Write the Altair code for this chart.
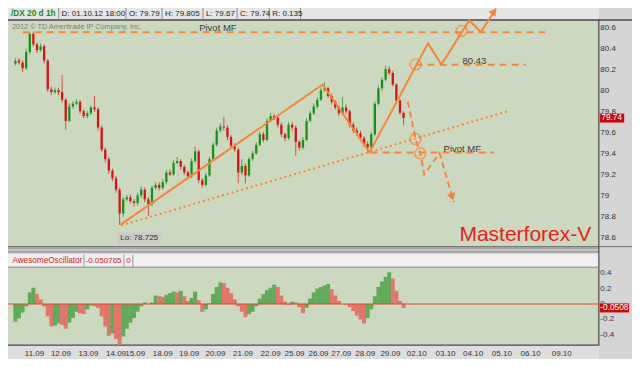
import altair as alt
import numpy as np
import pandas as pd

# ------------------------------------------------------------------ data
# 3-hour candles (time index in hours from the chart's left edge)
candle_hours = list(range(2, 2 + 3 * 109, 3))

closes = [80.286, 80.268, 80.214, 80.368, 80.541, 80.441, 80.386, 80.423, 80.286, 80.014,
          79.986, 80.005, 79.986, 79.914, 79.714, 79.850, 79.877, 79.895, 79.805, 79.759,
          79.786, 79.841, 79.823, 79.650, 79.441, 79.350, 79.241, 79.168, 79.059, 78.832,
          78.968, 78.986, 78.950, 78.932, 79.005, 79.059, 78.968, 78.923, 79.077, 79.105,
          79.077, 79.132, 79.223, 79.205, 79.314, 79.332, 79.277, 79.223, 79.186, 79.332,
          79.423, 79.150, 79.105, 79.195, 79.350, 79.486, 79.623, 79.659, 79.650, 79.559,
          79.477, 79.441, 79.223, 79.286, 79.195, 79.350, 79.405, 79.486, 79.586, 79.532,
          79.714, 79.759, 79.741, 79.677, 79.586, 79.550, 79.677, 79.650, 79.514, 79.459,
          79.532, 79.714, 79.786, 79.850, 79.914, 80.005, 80.023, 79.950, 79.895, 79.841,
          79.786, 79.841, 79.805, 79.677, 79.623, 79.595, 79.550, 79.495, 79.459, 79.586,
          79.877, 80.023, 80.105, 80.205, 80.168, 80.059, 79.905, 79.790, 79.740]
first_open = 80.26

highs = [80.31, 80.31, 80.29, 80.40, 80.555, 80.56, 80.46, 80.45, 80.44, 80.30,
         80.04, 80.03, 80.03, 80.15, 79.93, 79.88, 79.90, 79.92, 79.91, 79.82,
         79.81, 79.86, 79.95, 79.84, 79.67, 79.46, 79.37, 79.26, 79.19, 79.08,
         78.99, 79.01, 79.01, 78.97, 79.03, 79.09, 79.08, 78.99, 79.10, 79.13,
         79.13, 79.16, 79.25, 79.25, 79.34, 79.37, 79.35, 79.29, 79.24, 79.36,
         79.47, 79.44, 79.17, 79.22, 79.37, 79.51, 79.65, 79.69, 79.75, 79.67,
         79.58, 79.50, 79.46, 79.35, 79.31, 79.37, 79.43, 79.51, 79.61, 79.61,
         79.74, 79.79, 79.78, 79.76, 79.70, 79.60, 79.70, 79.70, 79.67, 79.53,
         79.56, 79.74, 79.81, 79.88, 79.94, 80.03, 80.08, 80.04, 79.97, 79.91,
         79.86, 79.94, 79.87, 79.82, 79.70, 79.65, 79.62, 79.57, 79.52, 79.61,
         79.90, 80.05, 80.13, 80.24, 80.23, 80.19, 80.07, 79.92, 79.805]

lows = [80.24, 80.25, 80.18, 80.20, 80.35, 80.42, 80.36, 80.37, 80.26, 79.99,
        79.96, 79.97, 79.96, 79.89, 79.63, 79.70, 79.83, 79.86, 79.78, 79.74,
        79.74, 79.77, 79.80, 79.62, 79.42, 79.32, 79.21, 79.14, 79.03, 78.725,
        78.80, 78.95, 78.93, 78.90, 78.91, 78.98, 78.94, 78.81, 78.90, 79.06,
        79.05, 79.06, 79.11, 79.19, 79.19, 79.30, 79.25, 79.20, 79.16, 79.17,
        79.31, 79.12, 79.08, 79.09, 79.18, 79.33, 79.47, 79.60, 79.62, 79.53,
        79.45, 79.42, 79.12, 79.20, 79.12, 79.18, 79.33, 79.39, 79.47, 79.51,
        79.52, 79.70, 79.72, 79.65, 79.56, 79.52, 79.53, 79.62, 79.38, 79.43,
        79.44, 79.52, 79.70, 79.77, 79.83, 79.90, 79.99, 79.93, 79.87, 79.82,
        79.76, 79.77, 79.78, 79.65, 79.60, 79.57, 79.52, 79.47, 79.41, 79.44,
        79.57, 79.86, 80.00, 80.09, 80.15, 80.04, 79.88, 79.77, 79.67]

# Awesome Oscillator values at the same time steps
ao_values = [-0.23, -0.185, -0.11, -0.03, 0.15, 0.21, 0.13, 0.06, -0.03, -0.16,
             -0.29, -0.28, -0.25, -0.27, -0.32, -0.24, -0.18, -0.10, -0.12, -0.13,
             -0.07, -0.02, -0.03, -0.05, -0.16, -0.29, -0.41, -0.38, -0.45, -0.52,
             -0.42, -0.32, -0.24, -0.18, -0.10, -0.03, 0.02, 0.00, 0.02, 0.11,
             0.10, 0.09, 0.12, 0.14, 0.16, 0.15, 0.17, 0.10, 0.04, 0.08,
             0.16, 0.05, -0.10, -0.07, 0.01, 0.13, 0.22, 0.28, 0.27, 0.21,
             0.14, 0.06, -0.03, -0.10, -0.17, -0.13, -0.10, -0.03, 0.07, 0.13,
             0.18, 0.21, 0.25, 0.22, 0.11, 0.03, -0.01, 0.03, 0.02, -0.04,
             -0.12, -0.05, 0.07, 0.15, 0.20, 0.22, 0.24, 0.26, 0.19, 0.11,
             0.04, 0.00, -0.01, -0.04, -0.09, -0.15, -0.20, -0.25, -0.18, -0.07,
             0.10, 0.22, 0.29, 0.35, 0.41, 0.33, 0.17, 0.04, -0.05]

# date labels (hour index of each label)
date_hours = [18, 40, 63, 86, 102, 125, 147, 169, 192, 215, 235, 255, 274, 294, 315,
              337, 361, 384, 408, 432, 458]
date_labels = ["11.09", "12.09", "13.09", "14.09", "15.09", "18.09", "19.09", "20.09",
               "21.09", "22.09", "25.09", "26.09", "27.09", "28.09", "29.09", "02.10",
               "03.10", "04.10", "05.10", "06.10", "09.10"]

price_ticks = [80.6, 80.4, 80.2, 80.0, 79.8, 79.6, 79.4, 79.2, 79.0, 78.8, 78.6]
price_tick_labels = ["80.6", "80.4", "80.2", "80", "79.8", "79.6", "79.4", "79.2", "79", "78.8", "78.6"]
ao_ticks = [0.4, 0.2, 0.0, -0.2, -0.4]
ao_tick_labels = ["0.4", "0.2", "0", "-0.2", "-0.4"]

# analyst drawings (hour index, price)
wave_hours = [89.6, 258.4, 297.6, 346.4, 357.6, 380.8, 390.4, 403.2]
wave_prices = [78.725, 80.059, 79.414, 80.45, 80.25, 80.668, 80.559, 80.777]
trend_hours = [90.4, 412.8]
trend_prices = [78.72, 79.805]
alt_hours = [329.6, 336, 340, 343.2, 356, 368]
alt_prices = [79.895, 79.541, 79.405, 79.205, 79.405, 78.941]
level_start = [8, 336, 298.4]
level_end = [444, 428, 401.6]
level_price = [80.555, 80.247, 79.414]
level_text = ["Pivot MF", "80.43", "Pivot MF"]
level_text_hour = [171, 385, 375]
level_text_price = [80.60, 80.285, 79.45]
circle_hours = [336, 374.4, 336, 340]
circle_prices = [80.25, 80.568, 79.541, 79.405]
arrow_hours = [401.5, 366.5]
arrow_prices = [80.755, 78.99]
arrow_angles = [34, 164]

last_price = 79.74
last_ao = -0.0508

# ------------------------------------------------------------------ layout helpers
SX = 624 / 640
SY = 351 / 367


def X(v):
    return round(v * SX, 2)


def Y(v):
    return round(v * SY, 2)


PLOT_BG = "#ccd9c0"
SIDE_BG = "#d5d5d5"
HEAD_BG = "#e6e6e6"
ORANGE = "#f5843a"
UP = "#1b8f1b"
DOWN = "#d11414"
FONT = "Liberation Sans"

one = pd.DataFrame({"d": [0]})


def box(x0, y0, x1, y1, fill, stroke=None, sw=1, r=0):
    kw = {"fill": fill}
    if stroke:
        kw.update(stroke=stroke, strokeWidth=sw)
    else:
        kw.update(strokeWidth=0)
    if r:
        kw["cornerRadius"] = r
    return alt.Chart(one).mark_rect(**kw).encode(
        x=alt.value(X(x0)), x2=alt.value(X(x1)), y=alt.value(Y(y0)), y2=alt.value(Y(y1)))


def line(x0, y0, x1, y1, color, sw=1):
    return alt.Chart(one).mark_rule(color=color, strokeWidth=sw).encode(
        x=alt.value(X(x0)), x2=alt.value(X(x1)), y=alt.value(Y(y0)), y2=alt.value(Y(y1)))


def txt(s, x, y, size, color, align="left", weight="normal", baseline="middle"):
    return alt.Chart(one).mark_text(
        text=s, fontSize=size, color=color, align=align, baseline=baseline,
        fontWeight=weight, font=FONT).encode(x=alt.value(X(x)), y=alt.value(Y(y)))


# scales (pixel ranges of the two panes)
xs = alt.Scale(domain=[0, 606 / 1.25], range=[0, X(606)], nice=False, zero=False)
ys_main = alt.Scale(domain=[78.6, 80.6], range=[Y(240.5), Y(20.5)], nice=False, zero=False)
ys_osc = alt.Scale(domain=[-0.4, 0.4], range=[Y(309.5 + 0.4 * 81), Y(309.5 - 0.4 * 81)],
                   nice=False, zero=False)

XH = alt.X("h:Q", scale=xs, axis=None)

# ------------------------------------------------------------------ frames
layers = []
layers.append(box(0, 0, 640, 367, SIDE_BG))
layers.append(box(0, 0, 606, 12, HEAD_BG))
layers.append(box(0, 13, 606, 250, PLOT_BG))
layers.append(box(0, 250, 606, 257, "#c6c6c6"))
layers.append(line(0, 251, 606, 251, "#8c8c8c"))
layers.append(line(0, 255, 606, 255, "#8c8c8c"))
layers.append(box(0, 257, 606, 271, "#f0f0f0"))
layers.append(box(0, 271, 606, 352, PLOT_BG))
layers.append(box(0, 353, 606, 367, "#dedede"))
layers.append(line(0, 12.5, 640, 12.5, "#4a4a4a", 1.5))
layers.append(line(606, 13, 606, 353, "#4a4a4a", 1.2))
layers.append(line(0, 271, 606, 271, "#8a8a8a"))
layers.append(line(0, 352.5, 606, 352.5, "#4a4a4a", 1.2))
layers.append(line(0, 249.5, 640, 249.5, "#6a6a6a"))

# header boxes
for xa in [52, 121, 158, 200, 235, 268, 300]:
    layers.append(line(xa, 0, xa, 12, "#8a8a8a"))
layers.append(txt("/DX 20 d 1h", 3, 6.5, 8.3, "#1f8a1f", weight="bold"))
for s, xa in [("D: 01.10.12 18:00", 55), ("O: 79.79", 124), ("H: 79.805", 161),
              ("L: 79.67", 203), ("C: 79.74", 238), ("R: 0.135", 271)]:
    layers.append(txt(s, xa, 6.5, 8, "#222222"))

# oscillator header boxes
for xa in [78, 119, 128]:
    layers.append(line(xa, 258, xa, 271, "#9a9a9a"))
layers.append(txt("AwesomeOscillator", 4.5, 264.5, 8.2, "#d42020"))
layers.append(txt("-0.050765", 79.5, 264.5, 8, "#d42020"))
layers.append(txt("0", 121.3, 264.5, 8, "#d42020"))

layers.append(txt("2012 \u00a9 TD Ameritrade IP Company, Inc.", 4, 19.5, 7.3, "#7c7c7c"))

# ------------------------------------------------------------------ candles
opens = [first_open] + closes[:-1]
cdf = pd.DataFrame({"h": candle_hours, "open": opens, "close": closes,
                    "high": highs, "low": lows})
cdf["dir"] = np.where(cdf["close"] >= cdf["open"], "up", "down")
ccol = alt.Color("dir:N", scale=alt.Scale(domain=["up", "down"], range=[UP, DOWN]), legend=None)

layers.append(alt.Chart(cdf).mark_rule(strokeWidth=1, opacity=0.7).encode(
    x=XH, y=alt.Y("low:Q", scale=ys_main, axis=None), y2="high:Q", color=ccol))
layers.append(alt.Chart(cdf).mark_bar(size=2.3).encode(
    x=XH, y=alt.Y("open:Q", scale=ys_main, axis=None), y2="close:Q", color=ccol))

# ------------------------------------------------------------------ drawings
lvl = pd.DataFrame({"h0": level_start, "h1": level_end, "p": level_price})
layers.append(alt.Chart(lvl).mark_rule(color=ORANGE, strokeWidth=2, strokeDash=[7, 5]).encode(
    x=alt.X("h0:Q", scale=xs, axis=None), x2="h1:Q", y=alt.Y("p:Q", scale=ys_main, axis=None)))

lvl_t = pd.DataFrame({"h": level_text_hour, "p": level_text_price, "t": level_text})
layers.append(alt.Chart(lvl_t).mark_text(fontSize=9.5, color="#3a3a3a", align="center",
                                          baseline="middle", font=FONT).encode(
    x=XH, y=alt.Y("p:Q", scale=ys_main, axis=None), text="t:N"))

wave = pd.DataFrame({"h": wave_hours, "p": wave_prices, "i": range(len(wave_hours))})
layers.append(alt.Chart(wave).mark_line(color=ORANGE, strokeWidth=2).encode(
    x=XH, y=alt.Y("p:Q", scale=ys_main, axis=None), order="i:Q"))

trend = pd.DataFrame({"h": trend_hours, "p": trend_prices, "i": range(len(trend_hours))})
layers.append(alt.Chart(trend).mark_line(color=ORANGE, strokeWidth=2, strokeDash=[2, 3]).encode(
    x=XH, y=alt.Y("p:Q", scale=ys_main, axis=None), order="i:Q"))

altp = pd.DataFrame({"h": alt_hours, "p": alt_prices, "i": range(len(alt_hours))})
layers.append(alt.Chart(altp).mark_line(color=ORANGE, strokeWidth=2, strokeDash=[6, 4]).encode(
    x=XH, y=alt.Y("p:Q", scale=ys_main, axis=None), order="i:Q"))

circ = pd.DataFrame({"h": circle_hours, "p": circle_prices})
layers.append(alt.Chart(circ).mark_point(shape="circle", size=120, filled=False,
                                         strokeWidth=1.6, color=ORANGE).encode(
    x=XH, y=alt.Y("p:Q", scale=ys_main, axis=None)))

arr = pd.DataFrame({"h": arrow_hours, "p": arrow_prices, "a": arrow_angles})
layers.append(alt.Chart(arr).mark_point(shape="triangle-up", size=75, filled=True,
                                        color=ORANGE, opacity=1).encode(
    x=XH, y=alt.Y("p:Q", scale=ys_main, axis=None), angle=alt.Angle("a:Q", scale=None)))

# Lo label
layers.append(box(112, 234.5, 157, 246.5, "#c9cbc5", r=2))
layers.append(txt("Lo: 78.725", 134.5, 240.5, 8, "#333333", align="center"))

layers.append(txt("Masterforex-V", 463, 237.5, 21, "#e3241b"))

# ------------------------------------------------------------------ oscillator
adf = pd.DataFrame({"h": candle_hours, "ao": ao_values})
adf["dir"] = np.where(adf["ao"].diff().fillna(1) >= 0, "up", "down")
acol = alt.Color("dir:N", scale=alt.Scale(domain=["up", "down"], range=["#62a95a", "#df786a"]),
                 legend=None)
layers.append(alt.Chart(adf).mark_bar(size=4.0).encode(
    x=XH, y=alt.Y("ao:Q", scale=ys_osc, axis=None), y2=alt.datum(0), color=acol))

zero = pd.DataFrame({"z": [0.0]})
layers.append(alt.Chart(zero).mark_rule(color="#d8452e", strokeWidth=1.2).encode(
    x=alt.value(0), x2=alt.value(X(606)), y=alt.Y("z:Q", scale=ys_osc, axis=None)))

# ------------------------------------------------------------------ axes
pt = pd.DataFrame({"p": price_ticks, "t": price_tick_labels})
layers.append(alt.Chart(pt).mark_text(fontSize=8, color="#333333", align="left",
                                       baseline="middle", font=FONT).encode(
    x=alt.value(X(607.5)), y=alt.Y("p:Q", scale=ys_main, axis=None), text="t:N"))

at = pd.DataFrame({"p": ao_ticks, "t": ao_tick_labels})
layers.append(alt.Chart(at).mark_text(fontSize=8, color="#333333", align="left",
                                       baseline="middle", font=FONT).encode(
    x=alt.value(X(607.5)), y=alt.Y("p:Q", scale=ys_osc, axis=None), text="t:N"))

lp = pd.DataFrame({"p": [last_price], "t": ["79.74"]})
layers.append(alt.Chart(lp).mark_rect(color="#cc0a0a", yOffset=-4.5, y2Offset=4.5).encode(
    x=alt.value(X(607)), x2=alt.value(X(632)),
    y=alt.Y("p:Q", scale=ys_main, axis=None), y2="p:Q"))
layers.append(alt.Chart(lp).mark_text(fontSize=8.3, color="white", align="left",
                                       baseline="middle", font=FONT).encode(
    x=alt.value(X(608.5)), y=alt.Y("p:Q", scale=ys_main, axis=None), text="t:N"))

la = pd.DataFrame({"p": [last_ao], "t": ["-0.0508"]})
layers.append(alt.Chart(la).mark_rect(color="#cc0a0a", yOffset=-4.5, y2Offset=4.5).encode(
    x=alt.value(X(607)), x2=alt.value(X(637)),
    y=alt.Y("p:Q", scale=ys_osc, axis=None), y2="p:Q"))
layers.append(alt.Chart(la).mark_text(fontSize=8.3, color="white", align="left",
                                       baseline="middle", font=FONT).encode(
    x=alt.value(X(607.5)), y=alt.Y("p:Q", scale=ys_osc, axis=None), text="t:N"))

dl = pd.DataFrame({"h": date_hours, "t": date_labels})
layers.append(alt.Chart(dl).mark_text(fontSize=8, color="#333333", align="center",
                                       baseline="middle", font=FONT).encode(
    x=XH, y=alt.value(Y(361.5)), text="t:N"))

chart = alt.layer(*layers).resolve_scale(y="independent", color="independent").properties(
    width=624, height=351, autosize=alt.AutoSizeParams(type="none"),
    padding={"left": 0, "top": 0, "right": 0, "bottom": 0},
).configure_view(strokeWidth=0)

chart.save("out.html", embed_options={"renderer": "svg", "actions": False})
